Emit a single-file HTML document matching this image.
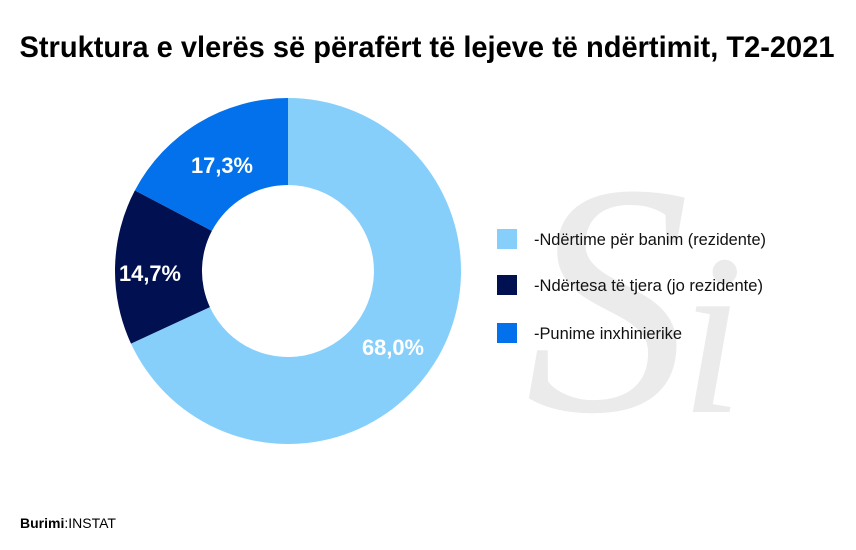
<!DOCTYPE html>
<html><head><meta charset="utf-8"><style>
html,body{margin:0;padding:0;background:#fff;}
svg{display:block;font-family:"Liberation Sans",Arial,sans-serif;}
</style></head><body>
<svg width="856" height="550" viewBox="0 0 856 550" xmlns="http://www.w3.org/2000/svg">
<rect width="856" height="550" fill="#fff"/>
<text x="427" y="57" text-anchor="middle" font-size="30" font-weight="bold" fill="#000" textLength="815" lengthAdjust="spacingAndGlyphs">Struktura e vlerës së përafërt të lejeve të ndërtimit, T2-2021</text>
<!-- watermark -->
<text x="525" y="410" font-family="Liberation Serif,serif" font-style="italic" font-size="330" fill="#ebebeb">S</text>
<text x="680" y="412" font-family="Liberation Serif,serif" font-style="italic" font-size="230" fill="#ebebeb">i</text>
<!-- donut -->
<g transform="translate(288,271)">
<path d="M0,-173 A173,173 0 1 1 -157.0,72.6 L-78.1,36.1 A86,86 0 1 0 0,-86 Z" fill="#87cffb"/>
<path d="M-157.0,72.6 A173,173 0 0 1 -153.1,-80.6 L-76.1,-40.1 A86,86 0 0 0 -78.1,36.1 Z" fill="#001050"/>
<path d="M-153.1,-80.6 A173,173 0 0 1 0,-173 L0,-86 A86,86 0 0 0 -76.1,-40.1 Z" fill="#0271eb"/>
</g>
<g font-size="22" font-weight="bold" fill="#fff" text-anchor="middle">
<text x="222" y="173" textLength="62" lengthAdjust="spacingAndGlyphs">17,3%</text>
<text x="150" y="281" textLength="62" lengthAdjust="spacingAndGlyphs">14,7%</text>
<text x="393" y="355" textLength="62" lengthAdjust="spacingAndGlyphs">68,0%</text>
</g>
<rect x="497" y="229" width="20" height="20" fill="#87cffb"/>
<rect x="497" y="275" width="20" height="20" fill="#001050"/>
<rect x="497" y="323" width="20" height="20" fill="#0271eb"/>
<g font-size="17" fill="#111">
<text x="534" y="245" textLength="232" lengthAdjust="spacingAndGlyphs">-Ndërtime për banim (rezidente)</text>
<text x="534" y="291" textLength="229" lengthAdjust="spacingAndGlyphs">-Ndërtesa të tjera (jo rezidente)</text>
<text x="534" y="339" textLength="148" lengthAdjust="spacingAndGlyphs">-Punime inxhinierike</text>
</g>
<text x="20" y="528" font-size="14" fill="#000"><tspan font-weight="bold">Burimi</tspan>:INSTAT</text>
</svg>
</body></html>
